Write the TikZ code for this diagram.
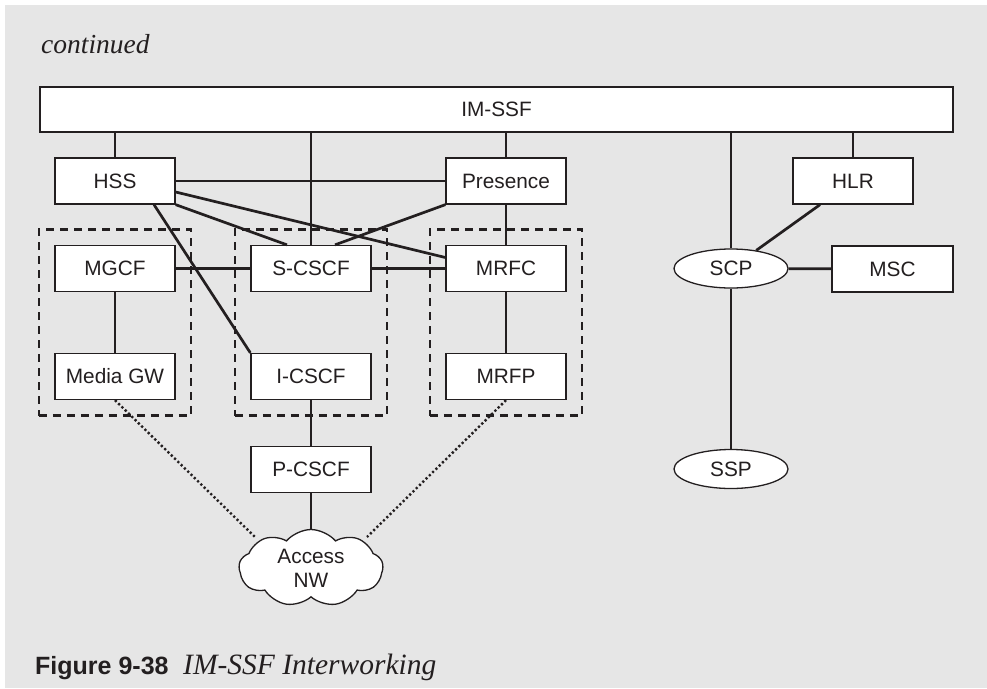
\documentclass[tikz,border=0pt]{standalone}
\usepackage{fontspec}
\setmainfont{Liberation Serif}
\setsansfont{Liberation Sans}
\usetikzlibrary{shapes.geometric,shapes.symbols,fit}

\definecolor{pagegray}{HTML}{E6E6E6}
\definecolor{ink}{HTML}{231F20}

\begin{document}
\begin{tikzpicture}[
    x=1pt, y=-1pt,
    box/.style={draw=ink, fill=white, line width=1.3pt, minimum width=120pt, minimum height=46pt, inner sep=0pt, text=ink, font=\sffamily\fontsize{20.8}{24}\selectfont},
    oval/.style={ellipse, draw=ink, fill=white, line width=1.3pt, minimum width=114pt, minimum height=39pt, inner sep=0pt, text=ink, font=\sffamily\fontsize{20.8}{24}\selectfont},
    group/.style={draw=ink, dash pattern=on 8pt off 6pt, line width=2.6pt, inner sep=15.5pt},
    link/.style={draw=ink, line width=2.7pt},
    media/.style={draw=ink, line width=2.4pt, dash pattern=on 2.2pt off 2.4pt}
]
\useasboundingbox (0,0) rectangle (987,688);
\fill[pagegray] (5,5) rectangle (987,688);

% heading and caption
\node[anchor=base west, inner sep=0pt, text=ink, font=\itshape\fontsize{27.5}{32}\selectfont] (cont) at (41,53) {continued};
\node[anchor=base west, inner sep=0pt, text=ink, font=\sffamily\bfseries\fontsize{25}{30}\selectfont] (figno) at (35,674) {Figure 9-38};
\node[anchor=base west, inner sep=0pt, text=ink, font=\itshape\fontsize{29.5}{32}\selectfont] (figtitle) at (183,674) {IM-SSF Interworking};

% nodes
\node[box, minimum width=913pt, minimum height=45pt] (imssf) at (496.5,109.5) {IM-SSF};
\node[box] (hss) at (115,181) {HSS};
\node[box] (presence) at (506,181) {Presence};
\node[box] (hlr) at (853,181) {HLR};
\node[box] (mgcf) at (115,268.5) {MGCF};
\node[box] (scscf) at (311,268.5) {S-CSCF};
\node[box] (mrfc) at (506,268.5) {MRFC};
\node[box] (mediagw) at (115,376.5) {Media GW};
\node[box] (icscf) at (311,376.5) {I-CSCF};
\node[box] (mrfp) at (506,376.5) {MRFP};
\node[box] (pcscf) at (311,469.5) {P-CSCF};
\node[oval] (scp) at (731,268.5) {SCP};
\node[oval] (ssp) at (731,469) {SSP};
\node[box, minimum width=121pt] (msc) at (892.5,269) {MSC};
\node[cloud, cloud puffs=9, cloud puff arc=100, aspect=1.9, draw=ink, fill=white, line width=1.3pt, minimum width=144pt, minimum height=77pt, inner sep=0pt, align=center, text=ink, font=\sffamily\fontsize{20.8}{24}\selectfont] (access) at (311,568) {Access\\NW};

\node[group, fit=(mgcf)(mediagw)] (grpmgw) {};
\node[group, fit=(scscf)(icscf)] (grpcscf) {};
\node[group, fit=(mrfc)(mrfp)] (grpmrf) {};

\coordinate (nwleft) at (255,537);
\coordinate (nwright) at (367,537);

% links to IM-SSF
\draw[link] (hss) -- (hss |- imssf.south);
\draw[link] (scscf) -- (scscf |- imssf.south);
\draw[link] (presence) -- (presence |- imssf.south);
\draw[link] (scp) -- (scp |- imssf.south);
\draw[link] (hlr) -- (hlr |- imssf.south);

% IMS links
\draw[link] (hss) -- (presence);
\draw[link] (hss.south east) -- ([xshift=-24pt]scscf.north);
\draw[link] ([yshift=-11pt]hss.east) -- ([yshift=11pt]mrfc.west);
\draw[link] ([xshift=39pt]hss.south) -- (icscf.north west);
\draw[link] (presence.south west) -- ([xshift=24pt]scscf.north);
\draw[link] (presence) -- (mrfc);
\draw[link] (mgcf) -- (scscf);
\draw[link] (scscf) -- (mrfc);
\draw[link] (mgcf) -- (mediagw);
\draw[link] (mrfc) -- (mrfp);
\draw[link] (icscf) -- (pcscf);
\draw[link] (pcscf) -- (access);

% legacy side
\draw[link] (hlr) -- (scp);
\draw[link] (scp) -- (msc);
\draw[link] (scp) -- (ssp);

% media paths
\draw[media] (mediagw.south) -- (nwleft);
\draw[media] (mrfp.south) -- (nwright);
\end{tikzpicture}
\end{document}
